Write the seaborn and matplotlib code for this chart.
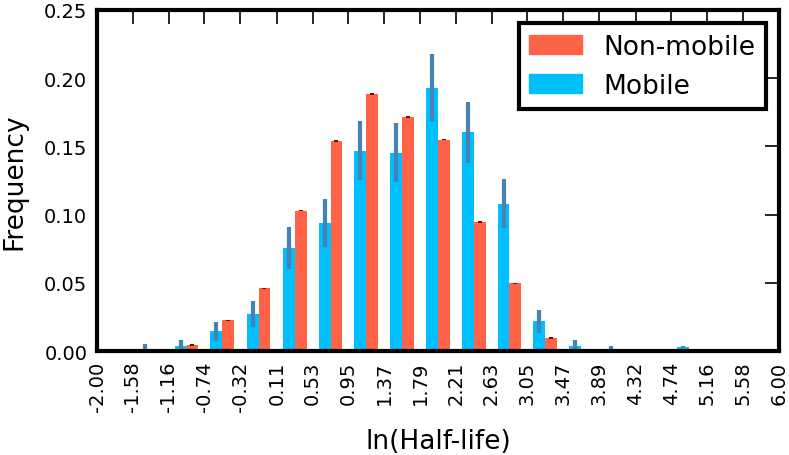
import numpy as np
import pandas as pd
import seaborn as sns
import matplotlib.pyplot as plt
from matplotlib.patches import Patch

# bin edges shown as tick labels
tick_labels = ['-2.00', '-1.58', '-1.16', '-0.74', '-0.32', '0.11', '0.53', '0.95', '1.37', '1.79',
               '2.21', '2.63', '3.05', '3.47', '3.89', '4.32', '4.74', '5.16', '5.58', '6.00']

# frequency per bin (19 bins)
mobile = [0, 0.0015, 0.0034, 0.0144, 0.027, 0.0755, 0.094, 0.1469, 0.1454, 0.1931,
          0.1603, 0.1081, 0.0217, 0.004, 0.001, 0, 0.003, 0, 0]
mobile_err = [0, 0.004, 0.005, 0.007, 0.0095, 0.0155, 0.0175, 0.0217, 0.0217, 0.0245,
              0.0223, 0.018, 0.0083, 0.0038, 0.0024, 0, 0.0008, 0, 0]
nonmobile = [0, 0, 0.0044, 0.0224, 0.046, 0.103, 0.154, 0.1883, 0.1715, 0.1549,
             0.0945, 0.0497, 0.0095, 0, 0, 0, 0, 0, 0]
nonmobile_err = [0, 0, 0.0005, 0.0005, 0.0005, 0.0005, 0.0005, 0.0005, 0.0005, 0.0005,
                 0.0005, 0.0005, 0.0005, 0, 0, 0, 0, 0, 0]

edges = np.array([float(t) for t in tick_labels])
centers = (edges[:-1] + edges[1:]) / 2

df = pd.DataFrame({
    'center': np.concatenate([centers, centers]),
    'freq': mobile + nonmobile,
    'group': ['Mobile'] * len(centers) + ['Non-mobile'] * len(centers),
})

red = '#FF6347'
blue = '#00BFFF'

sns.set_style('white')
plt.rcParams['font.family'] = ['DejaVu Sans']
plt.rcParams.update({'text.color': 'black', 'axes.labelcolor': 'black',
                     'xtick.color': 'black', 'ytick.color': 'black'})

fig, ax = plt.subplots(figsize=(7.89, 4.56), dpi=100)
fig.subplots_adjust(left=0.123, right=0.987, top=0.976, bottom=0.228)

sns.barplot(data=df, x='center', y='freq', hue='group', hue_order=['Mobile', 'Non-mobile'],
            palette={'Mobile': blue, 'Non-mobile': red}, native_scale=True, width=2 / 3,
            dodge=True, errorbar=None, saturation=1, linewidth=0, legend=False, ax=ax)

# error bars on top of each bar
for cont, errs, ecol in zip(ax.containers, [mobile_err, nonmobile_err], ['#4682B4', '#8B0000']):
    xs = [p.get_x() + p.get_width() / 2 for p in cont.patches]
    ys = [p.get_height() for p in cont.patches]
    ax.errorbar(xs, ys, yerr=errs, fmt='none', ecolor=ecol, elinewidth=3, capsize=0)

ax.set_xlim(-2, 6)
ax.set_ylim(0, 0.25)
ax.set_xticks(edges)
ax.set_xticklabels(tick_labels, rotation=90)
ax.set_yticks([0, 0.05, 0.10, 0.15, 0.20, 0.25])
ax.set_yticklabels(['0.00', '0.05', '0.10', '0.15', '0.20', '0.25'])
ax.tick_params(direction='in', top=True, right=True, length=10, width=1.2,
               labelsize=14, pad=7, color='black', labelcolor='black')
for s in ax.spines.values():
    s.set_linewidth(3)
    s.set_color('black')

ax.set_xlabel('ln(Half-life)', fontsize=19, labelpad=12)
ax.set_ylabel('Frequency', fontsize=19, labelpad=12)

handles = [Patch(color=red, label='Non-mobile'), Patch(color=blue, label='Mobile')]
leg = ax.legend(handles=handles, loc='upper right', fontsize=19, fancybox=False,
                framealpha=1, edgecolor='black')
leg.get_frame().set_linewidth(3)

plt.savefig('out.png', dpi=100)
